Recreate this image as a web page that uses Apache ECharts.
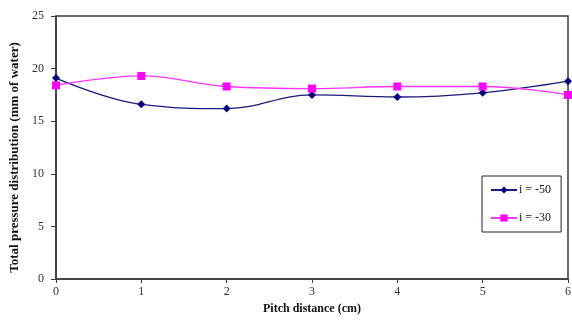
<!DOCTYPE html>
<html>
<head>
<meta charset="utf-8">
<style>
  html, body { margin: 0; padding: 0; background: #fff; }
  #chart { width: 572px; height: 320px; }
</style>
<script src="https://cdn.jsdelivr.net/npm/echarts@6/dist/echarts.min.js"></script>
</head>
<body>
<div id="chart"></div>
<script>
// Pitch positions (cm) and total pressure readings (mm of water)
var pitchDistance = [0, 1, 2, 3, 4, 5, 6];
var seriesMinus50 = [19.1, 16.6, 16.2, 17.5, 17.3, 17.7, 18.8];
var seriesMinus30 = [18.4, 19.3, 18.3, 18.1, 18.3, 18.3, 17.5];
var yTicks = [0, 5, 10, 15, 20, 25];

var serif = '"Liberation Serif", "DejaVu Serif", serif';
var axisColor = '#3a3a3a';

function pairs(xs, ys) {
  return xs.map(function (x, i) { return [x, ys[i]]; });
}

var chart = echarts.init(document.getElementById('chart'), null, { renderer: 'canvas' });
chart.setOption({
  animation: false,
  backgroundColor: '#fff',
  grid: {
    left: 56, right: 4, top: 16, bottom: 41,
    outerBoundsMode: 'none',
    show: true, borderColor: axisColor, borderWidth: 1.5
  },
  xAxis: {
    type: 'value',
    min: pitchDistance[0],
    max: pitchDistance[pitchDistance.length - 1],
    interval: 1,
    name: 'Pitch distance (cm)',
    nameLocation: 'middle',
    nameGap: 23,
    nameTextStyle: { fontFamily: serif, fontWeight: 'bold', fontSize: 12, color: '#111' },
    axisLine: { lineStyle: { color: axisColor, width: 1.5 } },
    axisTick: { show: true, inside: false, length: 4, lineStyle: { color: axisColor } },
    axisLabel: { fontFamily: serif, fontSize: 12, color: '#333', margin: 7 },
    splitLine: { show: false }
  },
  yAxis: {
    type: 'value',
    min: yTicks[0],
    max: yTicks[yTicks.length - 1],
    interval: 5,
    name: 'Total pressure distribution (mm of water)',
    nameLocation: 'middle',
    nameGap: 35,
    nameTextStyle: { fontFamily: serif, fontWeight: 'bold', fontSize: 13, color: '#111', padding: [0, 20, 0, 0] },
    axisLine: { show: true, lineStyle: { color: axisColor, width: 1.5 } },
    axisTick: { show: true, inside: false, length: 5, lineStyle: { color: axisColor } },
    axisLabel: { fontFamily: serif, fontSize: 12, color: '#333', margin: 12 },
    splitLine: { show: false }
  },
  legend: {
    orient: 'vertical',
    left: 482,
    top: 176,
    padding: [8, 10, 8, 8],
    itemGap: 16,
    itemWidth: 26,
    itemHeight: 9,
    borderColor: '#222',
    borderWidth: 1,
    backgroundColor: '#fff',
    textStyle: { fontFamily: serif, fontSize: 12, color: '#111', padding: [0, 0, 0, -3] },
    data: ['i = -50', 'i = -30']
  },
  series: [
    {
      name: 'i = -50',
      type: 'line',
      smooth: 0.4,
      data: pairs(pitchDistance, seriesMinus50),
      symbol: 'diamond',
      symbolSize: 8,
      lineStyle: { color: '#1a1a80', width: 1.3 },
      itemStyle: { color: '#000080' }
    },
    {
      name: 'i = -30',
      type: 'line',
      smooth: 0.4,
      data: pairs(pitchDistance, seriesMinus30),
      symbol: 'rect',
      symbolSize: 8,
      lineStyle: { color: '#ff33ff', width: 1.3 },
      itemStyle: { color: '#ff00ff' }
    }
  ]
});
</script>
</body>
</html>
